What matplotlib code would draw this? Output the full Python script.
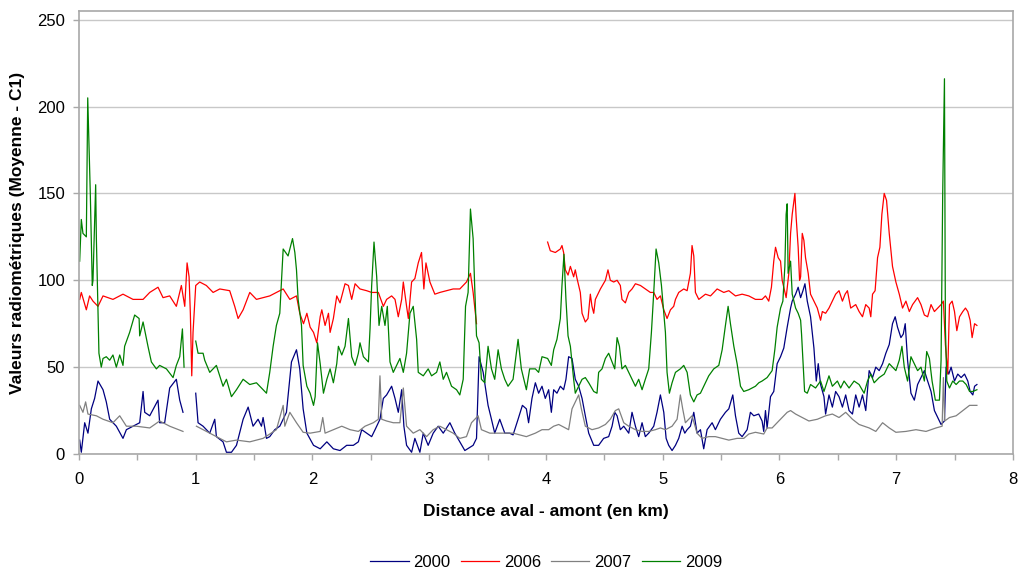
import numpy as np
import matplotlib.pyplot as plt

nan = np.nan

# (distance km, valeur); nan = gap in the series
s2000 = [(0.006, 8), (0.02, 1), (0.049, 18), (0.077, 12), (0.106, 26), (0.134, 32), (0.163, 42), (0.206, 37),
         (0.234, 30), (0.263, 20), (0.32, 16), (0.377, 9), (0.406, 14), (0.463, 16), (0.52, 18), (0.549, 36),
         (0.563, 24), (0.606, 22), (0.677, 31), (0.691, 18), (0.734, 18), (0.777, 38), (0.834, 43), (0.863, 31),
         (0.891, 24), (0.95, nan), (1.0, 35), (1.02, 18), (1.063, 16), (1.12, 12), (1.163, 20), (1.177, 10),
         (1.234, 7), (1.263, 1), (1.306, 1), (1.349, 5), (1.406, 20), (1.449, 27), (1.491, 16), (1.534, 20),
         (1.563, 16), (1.577, 21), (1.606, 9), (1.634, 10), (1.677, 14), (1.72, 16), (1.777, 24), (1.82, 53),
         (1.863, 60), (1.891, 49), (1.92, 26), (1.952, 12), (2.009, 5), (2.066, 3), (2.123, 7), (2.179, 3),
         (2.236, 2), (2.293, 5), (2.35, 5), (2.393, 7), (2.422, 14), (2.464, 12), (2.507, 10), (2.536, 14),
         (2.578, 20), (2.607, 32), (2.635, 34), (2.678, 39), (2.707, 32), (2.735, 24), (2.764, 37), (2.783, 16),
         (2.806, 5), (2.849, 1), (2.877, 9), (2.92, 1), (2.949, 12), (2.991, 5), (3.034, 12), (3.077, 16),
         (3.12, 12), (3.177, 18), (3.219, 12), (3.262, 7), (3.305, 2), (3.376, 5), (3.405, 9), (3.427, 56),
         (3.462, 47), (3.504, 28), (3.533, 20), (3.561, 12), (3.604, 20), (3.647, 12), (3.689, 12), (3.718, 11),
         (3.761, 20), (3.798, 28), (3.832, 26), (3.851, 18), (3.88, 32), (3.909, 41), (3.937, 35), (3.966, 39),
         (3.994, 32), (4.023, 37), (4.046, 24), (4.066, 37), (4.094, 35), (4.123, 39), (4.151, 37), (4.171, 43),
         (4.194, 56), (4.223, 55), (4.251, 43), (4.28, 39), (4.309, 32), (4.337, 22), (4.366, 12), (4.409, 5),
         (4.451, 5), (4.494, 9), (4.537, 10), (4.566, 16), (4.589, 24), (4.609, 22), (4.637, 14), (4.666, 16),
         (4.709, 12), (4.737, 24), (4.766, 16), (4.794, 10), (4.823, 18), (4.851, 10), (4.88, 12), (4.923, 16),
         (4.951, 24), (4.98, 34), (5.009, 24), (5.029, 9), (5.051, 5), (5.08, 2), (5.109, 5), (5.137, 9),
         (5.166, 16), (5.189, 12), (5.209, 14), (5.237, 16), (5.266, 24), (5.294, 12), (5.323, 14), (5.351, 3),
         (5.38, 14), (5.423, 18), (5.451, 14), (5.494, 20), (5.537, 24), (5.566, 26), (5.6, 34), (5.623, 22),
         (5.651, 12), (5.68, 10), (5.723, 14), (5.751, 24), (5.78, 22), (5.822, 23), (5.851, 19), (5.865, 13),
         (5.88, 25), (5.894, 15), (5.923, 33), (5.951, 36), (5.98, 52), (6.009, 56), (6.037, 61), (6.066, 73),
         (6.095, 84), (6.109, 88), (6.138, 92), (6.16, 96), (6.181, 90), (6.201, 94), (6.218, 98), (6.238, 88),
         (6.266, 79), (6.295, 61), (6.315, 42), (6.332, 52), (6.352, 40), (6.381, 33), (6.395, 23), (6.424, 34),
         (6.453, 27), (6.481, 36), (6.51, 33), (6.539, 27), (6.567, 34), (6.596, 25), (6.625, 23), (6.653, 34),
         (6.682, 27), (6.711, 34), (6.739, 25), (6.768, 48), (6.797, 44), (6.825, 50), (6.854, 48), (6.883, 52),
         (6.911, 58), (6.94, 63), (6.968, 75), (6.991, 79), (7.011, 73), (7.04, 67), (7.06, 69), (7.077, 75),
         (7.097, 54), (7.126, 35), (7.155, 31), (7.183, 40), (7.212, 44), (7.241, 48), (7.269, 42), (7.298, 36),
         (7.327, 25), (7.355, 21), (7.384, 17), (7.413, 19), (7.427, 50), (7.45, 46), (7.47, 50), (7.499, 42),
         (7.527, 46), (7.556, 44), (7.585, 46), (7.613, 42), (7.633, 36), (7.656, 34), (7.671, 39), (7.691, 40)]

s2006 = [(0.006, 89), (0.02, 93), (0.063, 83), (0.091, 91), (0.12, 88), (0.163, 85), (0.206, 91), (0.291, 89),
         (0.377, 92), (0.463, 89), (0.549, 89), (0.606, 93), (0.677, 96), (0.72, 90), (0.777, 91), (0.834, 85),
         (0.877, 97), (0.906, 85), (0.926, 110), (0.943, 102), (0.954, 81), (0.966, 45), (0.977, 70), (1.0, 97),
         (1.034, 99), (1.091, 97), (1.149, 93), (1.206, 95), (1.291, 94), (1.334, 85), (1.363, 78), (1.406, 83),
         (1.463, 93), (1.52, 89), (1.634, 91), (1.749, 95), (1.806, 89), (1.863, 91), (1.891, 81), (1.923, 75),
         (1.952, 81), (1.98, 73), (2.009, 70), (2.037, 64), (2.066, 79), (2.08, 83), (2.108, 74), (2.137, 81),
         (2.151, 70), (2.179, 78), (2.208, 91), (2.236, 87), (2.279, 98), (2.308, 97), (2.336, 89), (2.365, 98),
         (2.407, 95), (2.464, 94), (2.507, 93), (2.564, 93), (2.607, 85), (2.635, 89), (2.678, 91), (2.707, 89),
         (2.735, 79), (2.764, 89), (2.778, 99), (2.806, 85), (2.821, 78), (2.849, 99), (2.877, 101), (2.906, 110),
         (2.934, 116), (2.954, 95), (2.972, 110), (3.006, 99), (3.048, 92), (3.091, 93), (3.148, 94), (3.205, 95),
         (3.262, 95), (3.319, 99), (3.353, 104), (3.376, 93), (3.405, 75), (3.7, nan), (4.014, 122), (4.037, 117),
         (4.08, 116), (4.123, 118), (4.137, 120), (4.151, 116), (4.166, 106), (4.189, 103), (4.209, 108),
         (4.237, 102), (4.251, 106), (4.266, 101), (4.294, 93), (4.309, 81), (4.337, 76), (4.36, 78), (4.38, 92),
         (4.394, 85), (4.409, 81), (4.423, 89), (4.466, 95), (4.509, 100), (4.531, 106), (4.551, 100), (4.58, 99),
         (4.609, 100), (4.637, 97), (4.651, 89), (4.68, 87), (4.709, 93), (4.737, 95), (4.766, 98), (4.809, 97),
         (4.851, 95), (4.894, 93), (4.923, 93), (4.951, 89), (4.98, 91), (5.009, 83), (5.037, 78), (5.066, 83),
         (5.094, 85), (5.109, 89), (5.137, 93), (5.18, 95), (5.209, 94), (5.237, 104), (5.251, 120), (5.266, 114),
         (5.28, 93), (5.309, 89), (5.366, 92), (5.409, 91), (5.466, 95), (5.523, 93), (5.566, 94), (5.623, 91),
         (5.68, 92), (5.737, 91), (5.794, 89), (5.851, 89), (5.88, 91), (5.908, 88), (5.931, 96), (5.951, 111),
         (5.966, 119), (5.989, 113), (6.009, 111), (6.023, 100), (6.037, 96), (6.057, 90), (6.08, 104),
         (6.095, 127), (6.109, 138), (6.132, 150), (6.143, 136), (6.16, 119), (6.172, 100), (6.181, 102),
         (6.195, 127), (6.209, 123), (6.223, 113), (6.246, 104), (6.266, 92), (6.295, 88), (6.324, 84), (6.352, 77),
         (6.367, 82), (6.395, 81), (6.424, 84), (6.453, 88), (6.481, 92), (6.51, 94), (6.539, 88), (6.562, 92),
         (6.582, 94), (6.61, 84), (6.653, 86), (6.682, 82), (6.711, 79), (6.739, 86), (6.768, 84), (6.782, 79),
         (6.797, 92), (6.819, 94), (6.84, 113), (6.86, 119), (6.877, 138), (6.897, 150), (6.917, 146), (6.94, 127),
         (6.968, 108), (6.997, 99), (7.026, 92), (7.054, 84), (7.083, 88), (7.112, 82), (7.14, 86), (7.183, 90),
         (7.212, 86), (7.241, 80), (7.269, 79), (7.298, 86), (7.327, 82), (7.355, 84), (7.384, 86), (7.404, 88),
         (7.421, 63), (7.441, 46), (7.456, 86), (7.479, 88), (7.499, 82), (7.519, 71), (7.542, 79), (7.57, 82),
         (7.593, 84), (7.613, 82), (7.633, 77), (7.65, 67), (7.671, 75), (7.691, 74)]

s2007 = [(0.006, 28), (0.034, 24), (0.057, 30), (0.077, 23), (0.149, 22), (0.206, 20), (0.291, 18), (0.349, 22),
         (0.406, 16), (0.491, 16), (0.606, 15), (0.691, 19), (0.777, 16), (0.891, 13), (0.95, nan), (1.006, 16),
         (1.12, 12), (1.206, 9), (1.263, 7), (1.349, 8), (1.463, 7), (1.577, 9), (1.691, 14), (1.749, 28),
         (1.763, 16), (1.806, 24), (1.863, 18), (1.92, 12.5), (1.98, 12), (2.066, 13), (2.088, 21), (2.108, 12),
         (2.179, 14), (2.251, 16), (2.322, 14), (2.393, 13), (2.45, 16), (2.521, 18), (2.564, 20), (2.578, 45),
         (2.593, 20), (2.635, 19), (2.692, 18), (2.749, 18), (2.778, 38), (2.806, 16), (2.863, 12), (2.92, 14),
         (2.977, 10), (3.034, 14), (3.091, 16), (3.148, 14), (3.205, 12), (3.262, 9), (3.319, 10), (3.362, 18),
         (3.419, 22), (3.447, 14), (3.519, 12), (3.604, 12), (3.718, 12), (3.832, 10), (3.909, 12), (3.966, 14),
         (4.023, 14), (4.066, 16), (4.109, 17), (4.166, 15), (4.194, 14), (4.223, 26), (4.28, 34), (4.303, 26),
         (4.337, 16), (4.394, 14), (4.451, 15), (4.509, 17), (4.551, 20), (4.594, 25), (4.623, 26), (4.666, 18),
         (4.709, 16), (4.766, 14), (4.823, 13), (4.88, 13), (4.937, 14), (4.98, 15), (5.023, 14), (5.08, 16),
         (5.123, 20), (5.151, 34), (5.171, 26), (5.194, 18), (5.251, 22), (5.294, 12), (5.337, 9), (5.394, 10),
         (5.451, 10), (5.509, 9), (5.566, 8), (5.637, 9), (5.694, 9), (5.737, 11.5), (5.794, 12.5), (5.865, 11.5),
         (5.894, 15), (5.937, 15), (5.966, 17), (5.994, 19), (6.037, 22), (6.066, 24), (6.095, 25), (6.138, 23),
         (6.195, 21), (6.252, 19), (6.324, 20), (6.395, 22), (6.453, 23), (6.51, 21), (6.567, 24), (6.625, 20),
         (6.682, 17), (6.768, 15), (6.825, 13), (6.883, 18), (6.94, 15), (6.997, 12.5), (7.083, 13), (7.169, 14),
         (7.255, 13), (7.341, 15), (7.393, 16), (7.404, 44), (7.415, 19), (7.456, 21), (7.513, 22), (7.57, 25),
         (7.628, 28), (7.691, 28)]

s2009 = [(0.006, 111), (0.02, 135), (0.034, 127), (0.063, 125), (0.075, 205), (0.097, 150), (0.114, 97),
         (0.12, 100), (0.143, 155), (0.149, 124), (0.171, 58), (0.191, 50), (0.206, 55), (0.234, 56), (0.263, 54),
         (0.291, 57), (0.32, 50), (0.349, 57), (0.377, 51), (0.391, 62), (0.434, 70), (0.477, 80), (0.515, 78),
         (0.52, 68), (0.549, 76), (0.591, 62), (0.62, 53), (0.663, 49), (0.691, 51), (0.749, 49), (0.806, 44),
         (0.834, 51), (0.863, 56), (0.886, 72), (0.9, 50), (0.95, nan), (1.0, 65), (1.02, 58), (1.063, 58),
         (1.077, 54), (1.12, 47), (1.177, 51), (1.234, 39), (1.263, 43), (1.306, 33), (1.349, 37), (1.406, 43),
         (1.463, 40), (1.52, 41), (1.577, 37), (1.606, 35), (1.634, 47), (1.663, 62), (1.691, 74), (1.72, 81),
         (1.749, 118), (1.791, 114), (1.829, 124), (1.849, 116), (1.863, 106), (1.877, 89), (1.906, 74),
         (1.92, 51), (1.952, 39), (1.98, 35), (2.009, 28), (2.023, 33), (2.043, 64), (2.066, 52), (2.094, 35),
         (2.123, 43), (2.151, 49), (2.179, 41), (2.208, 52), (2.222, 62), (2.251, 57), (2.279, 62), (2.308, 78),
         (2.336, 56), (2.365, 51), (2.393, 58), (2.407, 64), (2.436, 56), (2.479, 53), (2.493, 72), (2.507, 97),
         (2.527, 122), (2.55, 102), (2.57, 74), (2.593, 85), (2.621, 74), (2.641, 85), (2.664, 53), (2.692, 47),
         (2.721, 51), (2.749, 55), (2.778, 47), (2.806, 58), (2.835, 81), (2.863, 85), (2.892, 66), (2.906, 47),
         (2.949, 45), (2.991, 49), (3.02, 45), (3.063, 47), (3.091, 53), (3.12, 43), (3.148, 47), (3.191, 39),
         (3.234, 37), (3.262, 34), (3.291, 43), (3.311, 85), (3.333, 93), (3.353, 141), (3.376, 124), (3.39, 95),
         (3.405, 68), (3.427, 64), (3.447, 43), (3.476, 41), (3.504, 62), (3.533, 49), (3.561, 43), (3.59, 60),
         (3.618, 49), (3.647, 43), (3.675, 39), (3.718, 43), (3.761, 66), (3.789, 49), (3.832, 37), (3.86, 49),
         (3.909, 49), (3.937, 47), (3.966, 56), (4.014, 55), (4.046, 51), (4.066, 60), (4.094, 66), (4.123, 78),
         (4.137, 97), (4.154, 115), (4.171, 89), (4.189, 68), (4.209, 62), (4.237, 43), (4.251, 35), (4.28, 39),
         (4.309, 43), (4.337, 44), (4.366, 41), (4.409, 36), (4.437, 35), (4.451, 47), (4.48, 49), (4.509, 55),
         (4.537, 58), (4.566, 53), (4.589, 49), (4.609, 67), (4.629, 62), (4.651, 49), (4.68, 51), (4.709, 47),
         (4.737, 43), (4.766, 39), (4.794, 43), (4.823, 37), (4.851, 43), (4.88, 49), (4.903, 70), (4.923, 93),
         (4.943, 118), (4.966, 110), (4.989, 97), (5.009, 81), (5.023, 70), (5.037, 47), (5.057, 35), (5.08, 41),
         (5.109, 47), (5.151, 49), (5.18, 51), (5.209, 47), (5.237, 34), (5.266, 30), (5.294, 34), (5.323, 35),
         (5.351, 39), (5.394, 45), (5.437, 49), (5.48, 51), (5.509, 60), (5.537, 74), (5.56, 85), (5.58, 75),
         (5.609, 62), (5.637, 52), (5.666, 39), (5.694, 36), (5.737, 37), (5.794, 39), (5.823, 41), (5.851, 42),
         (5.894, 44), (5.937, 48), (5.96, 60), (5.98, 73), (6.009, 84), (6.029, 88), (6.046, 108), (6.057, 138),
         (6.066, 144), (6.074, 104), (6.095, 111), (6.109, 92), (6.138, 84), (6.16, 81), (6.181, 77), (6.189, 69),
         (6.201, 54), (6.215, 36), (6.238, 35), (6.266, 40), (6.309, 38), (6.352, 42), (6.381, 36), (6.424, 45),
         (6.453, 39), (6.496, 42), (6.524, 38), (6.553, 42), (6.596, 38), (6.639, 42), (6.682, 40), (6.725, 35),
         (6.754, 42), (6.782, 46), (6.811, 41), (6.854, 44), (6.897, 46), (6.94, 52), (6.968, 50), (6.997, 48),
         (7.026, 54), (7.049, 62), (7.069, 50), (7.097, 42), (7.126, 56), (7.155, 52), (7.183, 48), (7.212, 50),
         (7.241, 42), (7.261, 59), (7.284, 55), (7.307, 42), (7.335, 31), (7.37, 31), (7.384, 54), (7.398, 150),
         (7.413, 216), (7.421, 73), (7.433, 42), (7.456, 38), (7.484, 42), (7.513, 40), (7.542, 42), (7.57, 42),
         (7.599, 40), (7.628, 36), (7.656, 36), (7.691, 37)]

series = [("2000", s2000, "#000080"),
          ("2006", s2006, "#ff0000"),
          ("2007", s2007, "#808080"),
          ("2009", s2009, "#008000")]

plt.rcParams['font.family'] = ['Liberation Sans', 'DejaVu Sans']

fig = plt.figure(figsize=(10.19, 5.70), dpi=100)
ax = fig.add_axes([0.0775, 0.2035, 0.9166, 0.7772])

for name, pts, col in series:
    x = [p[0] for p in pts]
    y = [p[1] for p in pts]
    ax.plot(x, y, color=col, lw=0.9, label=name)

ax.set_xlim(0, 8)
ax.set_ylim(0, 255)
ax.set_xticks(range(0, 9))
ax.set_xticks(np.arange(0.5, 8, 1.0), minor=True)
ax.set_yticks(range(0, 251, 50))
ax.yaxis.grid(True, color='#c8c8c8', lw=1.0)
ax.set_axisbelow(True)
for s in ax.spines.values():
    s.set_color('#a8a8a8')
    s.set_linewidth(1.2)
ax.tick_params(which='both', direction='out', length=4, color='#a8a8a8', width=1.0, labelsize=12)
ax.tick_params(axis='x', pad=9)
ax.tick_params(axis='y', pad=6)

ax.set_xlabel('Distance aval - amont (en km)', fontsize=12.5, fontweight='bold', labelpad=12)
ax.set_ylabel('Valeurs radiométriques (Moyenne - C1)', fontsize=12.5, fontweight='bold', labelpad=9)

fig.legend(loc='center', bbox_to_anchor=(0.536, 0.014), ncol=4, frameon=False,
           fontsize=12, handlelength=2.3, columnspacing=0.6, handletextpad=0.3)

fig.savefig('out.png', dpi=100)
